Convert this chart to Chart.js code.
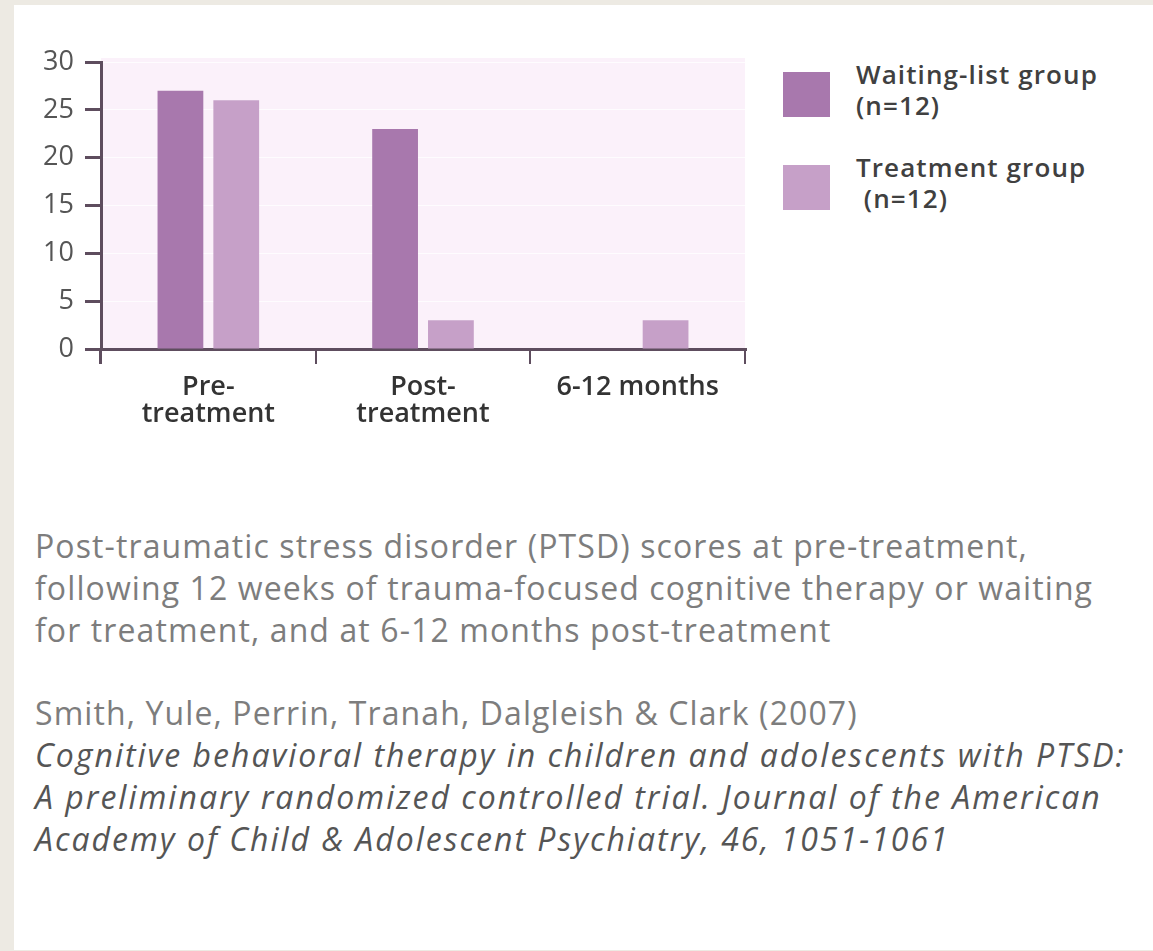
<!DOCTYPE html>
<html>
<head>
<meta charset="utf-8">
<script src="https://cdn.jsdelivr.net/npm/chart.js@4/dist/chart.umd.min.js"></script>
<style>
  html, body { margin: 0; padding: 0; }
  body { width: 1153px; height: 951px; background: #edeae3; position: relative; overflow: hidden; }
  #panel { position: absolute; left: 14px; top: 5px; right: 0; bottom: 1px; background: #fff; }
  #chartBox { position: absolute; left: 0; top: 0; width: 760px; height: 440px; }
  #legend { position: absolute; left: 783px; top: 72px; font-family: "Open Sans", sans-serif; color: #404040; }
  .item { position: relative; height: 93px; }
  .swatch { position: absolute; left: 0; top: 0; width: 47px; height: 45px; }
  .lbl { position: absolute; left: 73px; top: -13px; font-size: 26px; font-weight: 600; line-height: 31px; letter-spacing: 1.1px; white-space: pre; }
  #caption { position: absolute; left: 35px; top: 525px; font-family: "Open Sans", sans-serif; font-size: 32px; line-height: 42px; color: #7d7d7d; white-space: nowrap; }
  #caption p { margin: 0 0 41px 0; letter-spacing: 1.1px; }
  #caption i { color: #555; letter-spacing: 2px; }
</style>
</head>
<body>
<div id="panel"></div>
<div id="chartBox"><canvas id="chart"></canvas></div>
<div id="legend"></div>
<div id="caption">
  <p>Post-traumatic stress disorder (PTSD) scores at pre-treatment,<br>following 12 weeks of trauma-focused cognitive therapy or waiting<br>for treatment, and at 6-12 months post-treatment</p>
  <p>Smith, Yule, Perrin, Tranah, Dalgleish &amp; Clark (2007)<br><i>Cognitive behavioral therapy in children and adolescents with PTSD:<br>A preliminary randomized controlled trial. Journal of the American<br>Academy of Child &amp; Adolescent Psychiatry, 46, 1051-1061</i></p>
</div>
<script>
const categories = [["Pre-", "treatment"], ["Post-", "treatment"], "6-12 months"];
const waitingList = [27, 23, 0];
const treatment = [26, 3, 3];
const seriesNames = ["Waiting-list group\n(n=12)", "Treatment group\n (n=12)"];
const seriesColors = ["#a878ad", "#c6a0c8"];
const yTicks = [0, 5, 10, 15, 20, 25, 30];

const axisColor = "#5e4d5e";

// light pink plot area
const plotBg = {
  id: "plotBg",
  beforeDraw(chart) {
    const { ctx, chartArea: a } = chart;
    ctx.save();
    ctx.fillStyle = "#fbf1fa";
    ctx.fillRect(a.left, a.top - 4, a.right - a.left, a.bottom - a.top + 4);
    ctx.restore();
  }
};

new Chart(document.getElementById("chart"), {
  type: "bar",
  data: {
    labels: categories,
    datasets: [
      { label: seriesNames[0], data: waitingList, backgroundColor: seriesColors[0] },
      { label: seriesNames[1], data: treatment, backgroundColor: seriesColors[1] }
    ]
  },
  options: {
    responsive: true,
    maintainAspectRatio: false,
    animation: false,
    categoryPercentage: 0.52,
    barPercentage: 0.82,
    layout: { padding: { top: 62, right: 15, left: 0, bottom: 0 } },
    plugins: { legend: { display: false }, tooltip: { enabled: false } },
    scales: {
      x: {
        grid: {
          offset: true,
          drawOnChartArea: false,
          drawTicks: true,
          tickLength: 15,
          tickColor: (c) => (c.index === categories.length ? "transparent" : axisColor),
          lineWidth: (c) => (c.index === 0 ? 3 : 2)
        },
        border: { display: true, color: axisColor, width: 3 },
        ticks: {
          color: "#333",
          padding: 10,
          font: { family: "Open Sans", size: 27, weight: "600", lineHeight: 1.0 }
        },
        afterFit(scale) { scale.height = 91; }
      },
      y: {
        min: 0,
        max: 30,
        afterBuildTicks(scale) { scale.ticks = yTicks.map((v) => ({ value: v })); },
        grid: {
          drawOnChartArea: true,
          color: "rgba(255,255,255,0.8)",
          tickColor: axisColor,
          tickLength: 16,
          lineWidth: 1,
          tickWidth: 3
        },
        border: { display: true, color: axisColor, width: 3 },
        ticks: {
          color: "#555",
          padding: 11,
          font: { family: "Open Sans", size: 27 }
        },
        afterFit(scale) { scale.width = 101; }
      }
    }
  },
  plugins: [plotBg]
});

// legend built from the series arrays
const legend = document.getElementById("legend");
seriesNames.forEach((name, i) => {
  const item = document.createElement("div");
  item.className = "item";
  const sw = document.createElement("div");
  sw.className = "swatch";
  sw.style.background = seriesColors[i];
  const lbl = document.createElement("div");
  lbl.className = "lbl";
  lbl.textContent = name;
  item.appendChild(sw);
  item.appendChild(lbl);
  legend.appendChild(item);
});
</script>
</body>
</html>
